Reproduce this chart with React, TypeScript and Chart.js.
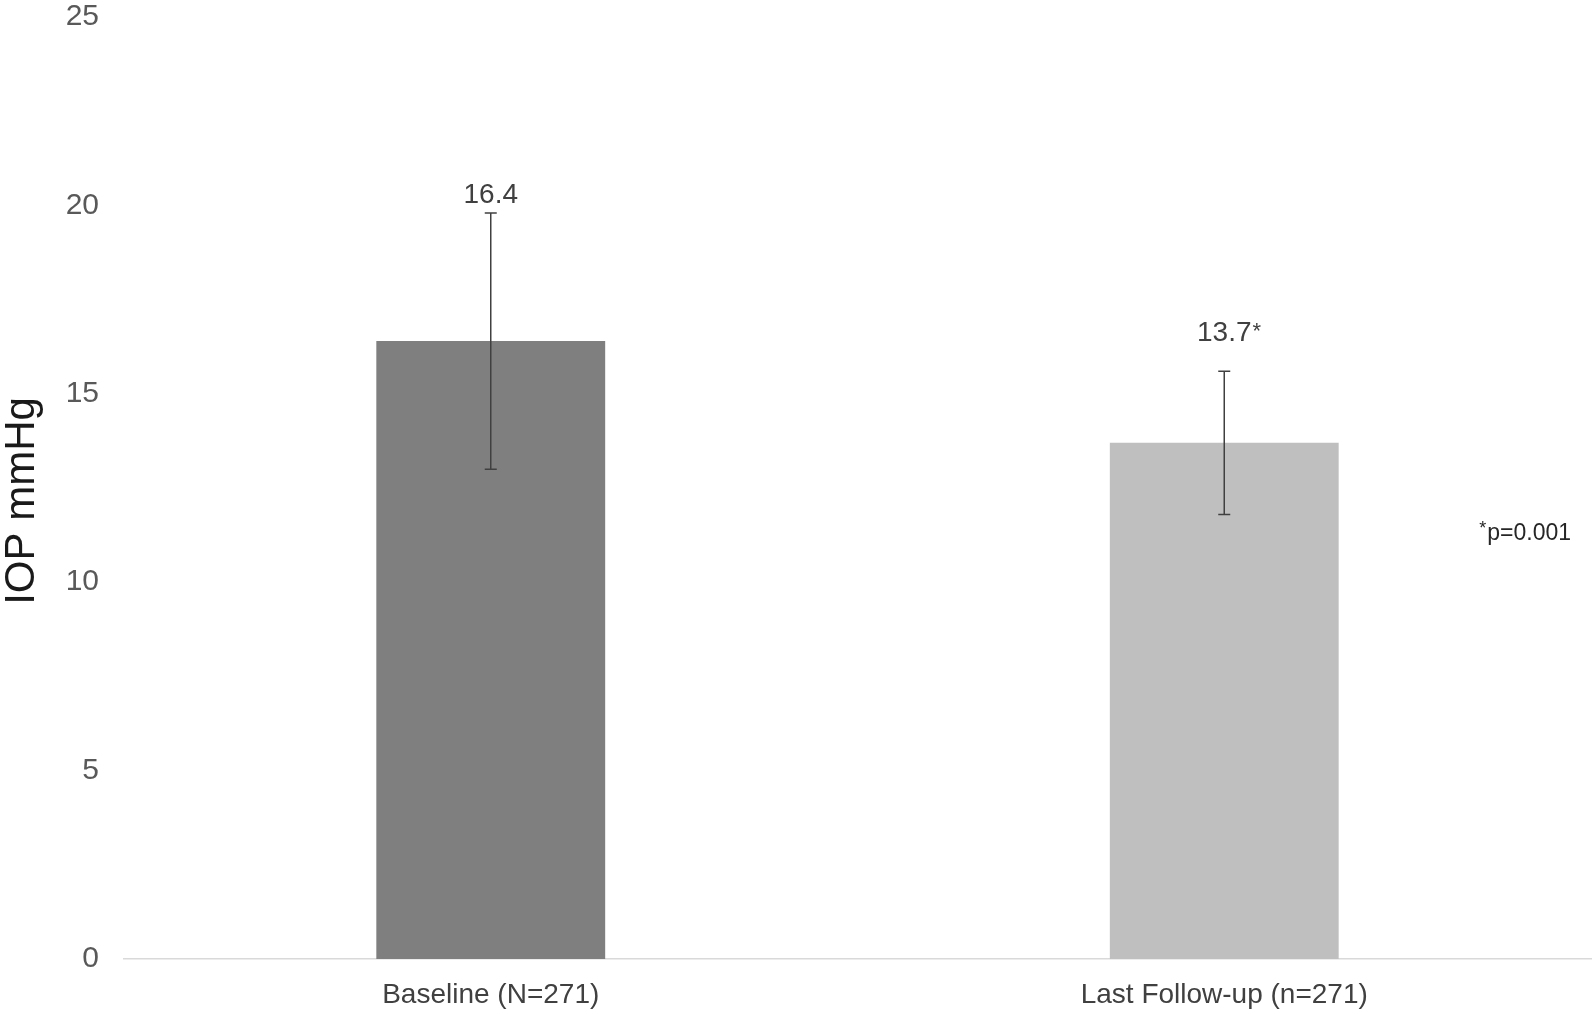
import React, { useEffect, useRef } from "react";
import { Chart, registerables } from "chart.js";

Chart.register(...registerables);

const categories = ["Baseline (N=271)", "Last Follow-up (n=271)"];
const means = [16.4, 13.7];
const errors = [3.4, 1.9];
const valueLabels = ["16.4", "13.7"];
const labelMarks = ["", "*"];
const barColors = ["#7f7f7f", "#bfbfbf"];
const yMin = 0;
const yMax = 25;
const yStep = 5;
const yTitle = "IOP mmHg";
const noteMark = "*";
const noteText = "p=0.001";

const FONT = '"Liberation Sans", Arial, sans-serif';
const labelOffsets = [18, 38];

const overlayPlugin = {
  id: "overlay",
  afterDatasetsDraw(chart: any) {
    const ctx = chart.ctx;
    const meta = chart.getDatasetMeta(0);
    const ys = chart.scales.y;
    ctx.save();
    meta.data.forEach((bar: any, i: number) => {
      const x = bar.x;
      const top = ys.getPixelForValue(means[i] + errors[i]);
      const bot = ys.getPixelForValue(means[i] - errors[i]);
      ctx.strokeStyle = "#404040";
      ctx.lineWidth = 1.5;
      ctx.beginPath();
      ctx.moveTo(x, top);
      ctx.lineTo(x, bot);
      ctx.moveTo(x - 6, top);
      ctx.lineTo(x + 6, top);
      ctx.moveTo(x - 6, bot);
      ctx.lineTo(x + 6, bot);
      ctx.stroke();

      const ly = top - labelOffsets[i];
      ctx.fillStyle = "#404040";
      ctx.font = `28px ${FONT}`;
      ctx.textAlign = "center";
      ctx.textBaseline = "middle";
      ctx.fillText(valueLabels[i], x, ly);
      if (labelMarks[i]) {
        const w = ctx.measureText(valueLabels[i]).width;
        ctx.font = `22px ${FONT}`;
        ctx.textAlign = "left";
        ctx.textBaseline = "top";
        ctx.fillText(labelMarks[i], x + w / 2 + 1, ly - 12);
      }
    });

    // y title
    const area = chart.chartArea;
    ctx.save();
    ctx.translate(22, 501);
    ctx.rotate(-Math.PI / 2);
    ctx.font = `42px ${FONT}`;
    ctx.fillStyle = "#1a1a1a";
    ctx.textAlign = "center";
    ctx.textBaseline = "middle";
    ctx.fillText(yTitle, 0, 0);
    ctx.restore();

    // note
    const ny = ys.getPixelForValue(11.3);
    ctx.font = `23px ${FONT}`;
    ctx.fillStyle = "#262626";
    ctx.textAlign = "right";
    ctx.textBaseline = "middle";
    const nx = area.right - 20;
    ctx.fillText(noteText, nx, ny);
    const tw = ctx.measureText(noteText).width;
    ctx.font = `18px ${FONT}`;
    ctx.textBaseline = "top";
    ctx.fillText(noteMark, nx - tw - 1, ny - 13);
    ctx.restore();
  },
};

export default function App() {
  const ref = useRef<HTMLCanvasElement | null>(null);
  useEffect(() => {
    if (!ref.current) return;
    const chart = new Chart(ref.current, {
      type: "bar",
      data: {
        labels: categories,
        datasets: [
          {
            data: means,
            backgroundColor: barColors,
            borderWidth: 0,
            barPercentage: 1,
            categoryPercentage: 0.312,
          },
        ],
      },
      options: {
        animation: false,
        responsive: false,
        maintainAspectRatio: false,
        layout: { padding: { top: 17, right: 3, bottom: 0, left: 0 } },
        plugins: {
          legend: { display: false },
          tooltip: { enabled: false },
        },
        scales: {
          x: {
            grid: { display: false, drawTicks: false },
            border: { display: true, color: "#d9d9d9", width: 1.5 },
            ticks: {
              color: "#404040",
              font: { family: FONT, size: 28 },
              padding: 19,
            },
            afterFit(scale: any) {
              scale.height = 55;
            },
          },
          y: {
            min: yMin,
            max: yMax,
            grid: { display: false, drawTicks: false },
            border: { display: false },
            ticks: {
              stepSize: yStep,
              color: "#595959",
              font: { family: FONT, size: 30 },
              padding: 25,
            },
            afterFit(scale: any) {
              scale.width = 124;
              scale.paddingTop = 0;
              scale.paddingBottom = 0;
            },
          },
        },
      },
      plugins: [overlayPlugin],
    });
    return () => chart.destroy();
  }, []);
  return (
    <div style={{ position: "fixed", left: 0, top: 0, width: 1594, height: 1014, background: "#fff" }}>
      <canvas ref={ref} width={1594} height={1014} style={{ width: 1594, height: 1014, display: "block" }} />
    </div>
  );
}
